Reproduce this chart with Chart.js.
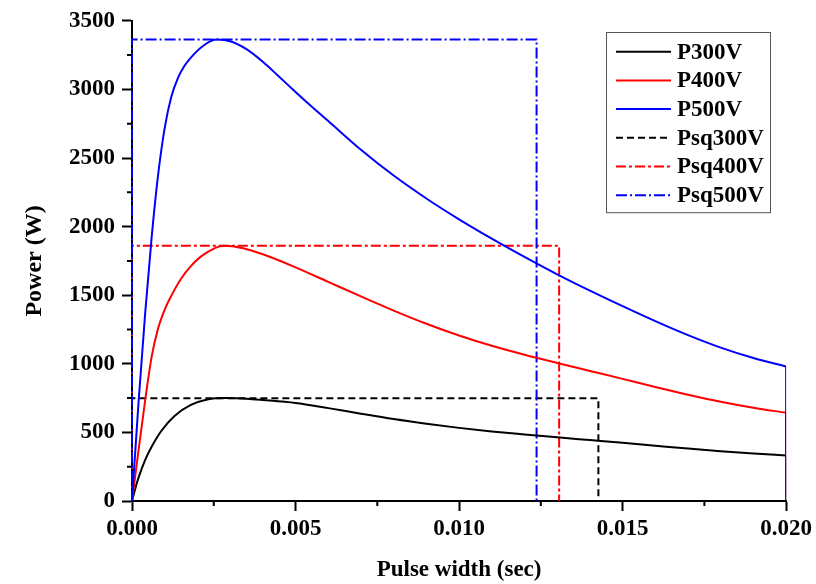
<!DOCTYPE html>
<html>
<head>
<meta charset="utf-8">
<title>Pulse power</title>
<script src="https://cdn.jsdelivr.net/npm/chart.js@4.4.1/dist/chart.umd.min.js"></script>
<style>
  html, body { margin: 0; padding: 0; background: #fff; }
  canvas { display: block; }
</style>
</head>
<body>
<canvas id="powerChart" width="816" height="584"></canvas>
<script>
// power vs pulse width for each supply voltage (t in s, P in W)
const t300 = [0, 0.0001, 0.0002, 0.0004, 0.0006, 0.0009, 0.0013, 0.0018, 0.0023, 0.0029, 0.0035, 0.004, 0.005, 0.006, 0.007, 0.008, 0.009, 0.010, 0.011, 0.012, 0.013, 0.014, 0.015, 0.016, 0.017, 0.018, 0.019, 0.020];
const p300 = [0, 90, 170, 298, 395, 512, 620, 700, 740, 750, 746, 737, 715, 677, 636, 597, 563, 533, 507, 485, 464, 444, 424, 403, 382, 363, 346, 332];

const t400 = [0, 0.0002, 0.0004, 0.0006, 0.0008, 0.001, 0.0012, 0.0015, 0.0018, 0.0022, 0.0028, 0.0034, 0.004, 0.005, 0.006, 0.007, 0.008, 0.009, 0.010, 0.011, 0.012, 0.013, 0.014, 0.015, 0.016, 0.017, 0.018, 0.019, 0.020];
const p400 = [0, 370, 729, 1050, 1260, 1395, 1495, 1620, 1712, 1797, 1860, 1842, 1798, 1703, 1597, 1491, 1388, 1292, 1206, 1131, 1066, 1006, 948, 890, 831, 775, 724, 680, 643];

const t500 = [0, 0.0002, 0.0004, 0.0006, 0.0008, 0.001, 0.0012, 0.0014, 0.0016, 0.0018, 0.0022, 0.0026, 0.003, 0.0035, 0.004, 0.0045, 0.005, 0.0055, 0.006, 0.007, 0.008, 0.009, 0.010, 0.011, 0.012, 0.013, 0.014, 0.015, 0.016, 0.017, 0.018, 0.019, 0.020];
const p500 = [0, 720, 1360, 1920, 2380, 2720, 2945, 3080, 3170, 3232, 3322, 3363, 3351, 3293, 3201, 3092, 2981, 2873, 2769, 2560, 2372, 2205, 2053, 1912, 1779, 1652, 1533, 1420, 1311, 1209, 1118, 1042, 981];

// equivalent square pulses: power level (W) and pulse end (s)
const sqLevel = [748, 1860, 3363];
const sqEnd = [0.01426, 0.01306, 0.01237];

const curveNames = ["P300V", "P400V", "P500V"];
const squareNames = ["Psq300V", "Psq400V", "Psq500V"];
const seriesColors = ["#000000", "#ff0000", "#0000ff"];
const squareDash = [[7, 4], [10, 3, 3, 3], [11, 3, 2, 3]];

const xTicks = [0, 0.005, 0.010, 0.015, 0.020];
const yTicks = [0, 500, 1000, 1500, 2000, 2500, 3000, 3500];

const curveT = [t300, t400, t500];
const curveP = [p300, p400, p500];

function toPoints(t, p) {
  return t.map((x, i) => ({ x: x, y: p[i] }));
}

const datasets = [];
for (let i = 0; i < 3; i++) {
  const t = curveT[i];
  const p = curveP[i];
  datasets.push({
    label: curveNames[i],
    data: toPoints(t, p),
    borderColor: seriesColors[i],
    borderWidth: 2,
    pointRadius: 0,
    cubicInterpolationMode: "monotone",
    order: 3 - i,
  });
  // curve is cut off at the end of the window
  datasets.push({
    data: [
      { x: t[t.length - 1], y: p[p.length - 1] },
      { x: t[t.length - 1], y: 0 },
    ],
    borderColor: seriesColors[i],
    borderWidth: 2,
    pointRadius: 0,
    order: 3 - i,
  });
}
for (let i = 0; i < 3; i++) {
  datasets.push({
    label: squareNames[i],
    data: [
      { x: 0, y: 0 },
      { x: 0, y: sqLevel[i] },
      { x: sqEnd[i], y: sqLevel[i] },
      { x: sqEnd[i], y: 0 },
    ],
    borderColor: seriesColors[i],
    borderWidth: 2,
    borderDash: squareDash[i],
    pointRadius: 0,
    tension: 0,
    clip: false,
    order: 6 - i,
  });
}

const serifBold = (size) => ({ family: "'Liberation Serif', 'Times New Roman', serif", size: size, weight: "bold" });

// short ticks halfway between the labelled ones
const minorTicks = {
  id: "minorTicks",
  afterDraw(chart) {
    const ctx = chart.ctx;
    const xs = chart.scales.x;
    const ys = chart.scales.y;
    ctx.save();
    ctx.strokeStyle = "#000";
    ctx.lineWidth = 2;
    ctx.beginPath();
    for (let i = 1; i < xTicks.length; i++) {
      const px = xs.getPixelForValue((xTicks[i - 1] + xTicks[i]) / 2);
      ctx.moveTo(px, xs.top);
      ctx.lineTo(px, xs.top + 5);
    }
    for (let i = 1; i < yTicks.length; i++) {
      const py = ys.getPixelForValue((yTicks[i - 1] + yTicks[i]) / 2);
      ctx.moveTo(ys.right, py);
      ctx.lineTo(ys.right - 5, py);
    }
    ctx.stroke();
    ctx.restore();
  },
};

// framed legend in the upper right, styled from the datasets
const boxLegend = {
  id: "boxLegend",
  afterDraw(chart) {
    const ctx = chart.ctx;
    const items = chart.data.datasets.filter((d) => d.label);
    const left = 606.5, top = 32.5, w = 164, rowH = 28.7, firstRow = 51.7;
    ctx.save();
    ctx.fillStyle = "#fff";
    ctx.fillRect(left, top, w, items.length * rowH + 8);
    ctx.strokeStyle = "#555";
    ctx.lineWidth = 1;
    ctx.strokeRect(left, top, w, items.length * rowH + 8);
    ctx.font = "bold 23px 'Liberation Serif', 'Times New Roman', serif";
    ctx.textBaseline = "middle";
    ctx.textAlign = "left";
    items.forEach((d, i) => {
      const y = firstRow + i * rowH;
      ctx.strokeStyle = d.borderColor;
      ctx.lineWidth = 2;
      ctx.setLineDash(d.borderDash || []);
      ctx.beginPath();
      ctx.moveTo(616, y);
      ctx.lineTo(671, y);
      ctx.stroke();
      ctx.setLineDash([]);
      ctx.fillStyle = "#000";
      ctx.fillText(d.label, 677, y + 1);
    });
    ctx.restore();
  },
};

new Chart(document.getElementById("powerChart"), {
  type: "line",
  data: { datasets: datasets },
  options: {
    responsive: false,
    animation: false,
    devicePixelRatio: 1,
    layout: { padding: { left: 0, right: 29, top: 16, bottom: 0 } },
    plugins: {
      legend: { display: false },
      tooltip: { enabled: false },
    },
    scales: {
      x: {
        type: "linear",
        position: "bottom",
        min: 0,
        max: 0.02,
        afterBuildTicks: (scale) => {
          scale.ticks = xTicks.map((v) => ({ value: v }));
        },
        afterFit: (scale) => {
          scale.height = 83;
        },
        ticks: {
          autoSkip: false,
          maxRotation: 0,
          padding: 4,
          color: "#000",
          font: serifBold(23),
          callback: (v) => Number(v).toFixed(3),
        },
        grid: {
          drawOnChartArea: false,
          drawTicks: true,
          tickLength: 10,
          tickWidth: 2,
          tickColor: "#000",
        },
        border: { display: true, color: "#000", width: 2 },
        title: {
          display: true,
          text: "Pulse width (sec)",
          color: "#000",
          font: serifBold(23),
          padding: { top: 0, bottom: 0 },
        },
      },
      y: {
        type: "linear",
        position: "left",
        min: 0,
        max: 3500,
        afterBuildTicks: (scale) => {
          scale.ticks = yTicks.map((v) => ({ value: v }));
        },
        afterFit: (scale) => {
          scale.width = 132;
        },
        ticks: {
          autoSkip: false,
          padding: 7,
          color: "#000",
          font: serifBold(23),
          callback: (v) => String(v),
        },
        grid: {
          drawOnChartArea: false,
          drawTicks: true,
          tickLength: 10,
          tickWidth: 2,
          tickColor: "#000",
        },
        border: { display: true, color: "#000", width: 2 },
        title: {
          display: true,
          text: "Power (W)",
          color: "#000",
          font: serifBold(24),
          padding: { top: 20, bottom: 0 },
        },
      },
    },
  },
  plugins: [minorTicks, boxLegend],
});
</script>
</body>
</html>
